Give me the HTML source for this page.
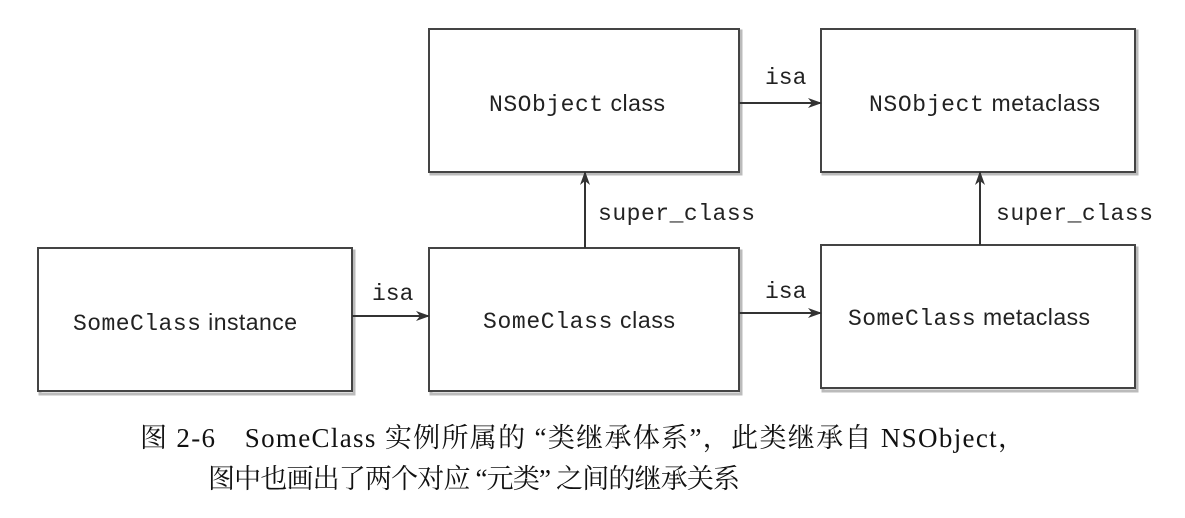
<!DOCTYPE html>
<html><head><meta charset="utf-8"><style>
html,body{margin:0;padding:0;background:#fff;}
svg{display:block}
.m{font-family:"Liberation Mono",monospace;font-size:23px;fill:#222}
.s{font-family:"Liberation Sans",sans-serif;font-size:23px;fill:#222}
.c{font-family:"Liberation Serif","Noto Serif CJK SC",serif;font-size:27px;fill:#111}
</style></head><body>
<svg width="1185" height="518" viewBox="0 0 1185 518" xmlns="http://www.w3.org/2000/svg">
<defs>
<marker id="a" markerWidth="14" markerHeight="10" refX="13" refY="5" orient="auto" markerUnits="userSpaceOnUse">
<path d="M0,0 L14,5 L0,10 L4,5 z" fill="#333"/></marker>
</defs>
<g fill="none" stroke="#bbb" stroke-width="3">
<rect x="431" y="31" width="310" height="143"/>
<rect x="823" y="31" width="314" height="143"/>
<rect x="40" y="251" width="314" height="143"/>
<rect x="431" y="251" width="310" height="143"/>
<rect x="823" y="248" width="314" height="143"/>
</g>
<g fill="#fff" stroke="#444" stroke-width="2">
<rect x="429" y="29" width="310" height="143"/>
<rect x="821" y="29" width="314" height="143"/>
<rect x="38" y="248" width="314" height="143"/>
<rect x="429" y="248" width="310" height="143"/>
<rect x="821" y="245" width="314" height="143"/>
</g>
<g stroke="#333" stroke-width="2" fill="none">
<line x1="739" y1="103" x2="821" y2="103" marker-end="url(#a)"/>
<line x1="352" y1="316" x2="429" y2="316" marker-end="url(#a)"/>
<line x1="739" y1="313" x2="821" y2="313" marker-end="url(#a)"/>
<line x1="585" y1="248" x2="585" y2="172" marker-end="url(#a)"/>
<line x1="980" y1="245" x2="980" y2="172" marker-end="url(#a)"/>
</g>
<text class="m" x="765" y="84">isa</text>
<text class="m" x="372" y="300">isa</text>
<text class="m" x="765" y="298">isa</text>
<text class="m" x="598" y="220" textLength="157">super_class</text>
<text class="m" x="996" y="220" textLength="157">super_class</text>
<text x="489" y="111" textLength="176"><tspan class="m">NSObject</tspan><tspan class="s"> class</tspan></text>
<text x="869" y="111" textLength="231"><tspan class="m">NSObject</tspan><tspan class="s"> metaclass</tspan></text>
<text x="73" y="330" textLength="224"><tspan class="m">SomeClass</tspan><tspan class="s"> instance</tspan></text>
<text x="483" y="328" textLength="192"><tspan class="m">SomeClass</tspan><tspan class="s"> class</tspan></text>
<text x="848" y="325" textLength="242"><tspan class="m">SomeClass</tspan><tspan class="s"> metaclass</tspan></text>
<text class="c" x="140" y="447" textLength="885">图 2-6　SomeClass 实例所属的 “类继承体系”，此类继承自 NSObject，</text>
<text class="c" x="208" y="488" textLength="532">图中也画出了两个对应 “元类” 之间的继承关系</text>
</svg>
</body></html>
